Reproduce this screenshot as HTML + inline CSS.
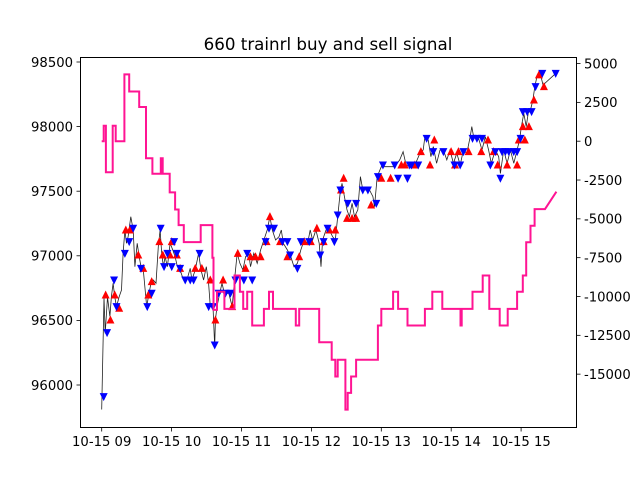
<!DOCTYPE html>
<html><head><meta charset="utf-8"><style>
body{margin:0;background:#fff;}
svg text{font-family:"DejaVu Sans","Liberation Sans",sans-serif;}
</style></head><body>
<svg id="chart" width="640" height="480" viewBox="0 0 640 480" xmlns="http://www.w3.org/2000/svg">
<rect x="0" y="0" width="640" height="480" fill="#fff"/>
<text x="328" y="50" text-anchor="middle" font-size="16.7" fill="#000">660 trainrl buy and sell signal</text>
<g id="plot"></g>
<rect x="80.5" y="57.5" width="496" height="370" fill="none" stroke="#000" stroke-width="1"/>
</svg>
<script>
const priceT=[0,2,3,5,7,8.3,9.8,11.2,12.7,15,17,18.4,19.9,21.3,22.7,25,27,28.5,30.5,32.2,33.7,35.7,38.6,40.6,42.3,44.3,46.6,48.6,50.1,51.5,53,54.4,56.4,58.7,61,63,65,67.3,70.2,73.1,76,77.4,80.3,83.2,85.2,87.5,89.8,91.8,93.2,95.5,97,97.6,99,101.3,103.3,105.3,109.1,112,114,116.3,118.6,121.2,123.5,126.3,127.7,130.6,133.5,136.4,139.2,142.1,144.4,146.4,149.3,152.2,154.2,155.9,159.4,162.3,165.1,168,170.9,173.8,176.7,179,181,183.9,186.7,188.2,189.6,192.5,195.4,198.2,200.5,202.6,204.6,206.3,208.3,210.6,212.6,214.9,217,219.8,222.1,224.1,227,229.9,232.8,234.2,236.5,240,242.9,247.2,251.5,255.8,258.7,261.6,264.4,268.8,273.1,276,277.4,280.3,282.6,284.6,287.5,290.4,293.3,296.2,299,301.9,304.8,307.7,310.5,313.4,316.3,317.7,319.2,323.5,326.4,329.3,332.1,334.4,337.9,340.8,342.2,345.1,348,350.8,353.7,356.6,358.6,360.3,362.3,364.4,366.1,368.1,370.1,371.8,373.9,376.7,378.8,389.7];
const priceV=[95810,96680,96400,96680,96530,96684,96787,96684,96607,96684,96735,97019,97200,97097,97148,97303,97200,96916,97097,96993,96916,96890,96607,96710,96787,96813,96787,97071,97200,97019,96916,96993,96916,97097,97045,96993,96916,96890,96813,96813,96903,96813,96890,97019,96890,96813,96916,96787,96607,96607,96297,96503,96607,96710,96787,96710,96710,96607,96813,97019,96942,96890,96993,97019,96916,97019,96942,97045,97122,97200,97303,97200,97122,97148,97200,97097,97045,96993,96916,96942,97045,97122,97097,97200,97122,97200,97097,96916,97122,97200,97200,97148,97122,97303,97484,97561,97458,97355,97303,97406,97303,97355,97613,97509,97509,97509,97458,97380,97613,97690,97690,97690,97690,97742,97806,97690,97716,97703,97793,97819,97922,97896,97767,97845,97716,97819,97819,97742,97819,97716,97793,97703,97819,97793,97922,98000,97922,97909,97819,97922,97819,97716,97819,97767,97638,97819,97716,97819,97716,97819,97896,98000,98103,98000,98103,98129,98206,98309,98400,98400,98322,98412];
const buyT=[3.4,7.5,11.2,15,20.7,24.2,31.4,35.7,40,42.9,49.5,52.4,58.7,60.1,64.5,67.3,80.3,86,93.2,97.6,104.2,112,116.8,123.5,127.7,132,136.4,141.5,144.4,153.1,159.4,169.5,173.8,179.5,184.7,190.5,195.4,200.5,205.4,207.7,210.6,214.9,218.4,231.3,240,248,257.2,260.2,268.8,274,281.8,285.5,299.9,303.3,306.2,314.9,325.8,331.6,336.4,339.9,348,356.6,358,363.2,361.5,366.7,371,375.3,379.6];
const buyV=[96697,96503,96697,96594,97200,97200,97006,96903,96697,96800,97110,97006,97006,97110,97006,96903,96903,96903,96813,96503,96813,96607,97019,96903,96993,96993,96993,97110,97303,97110,96993,96993,97110,97110,97213,97110,97200,97200,97509,97600,97290,97290,97290,97393,97600,97600,97703,97703,97703,97806,97703,97896,97806,97703,97806,97806,97806,97896,97806,97703,97703,97703,97896,97896,98000,98000,98206,98400,98309];
const sellT=[1.7,4.6,10.6,12.7,19.9,23.6,27,33.7,39.1,42.9,50.6,53.5,56.4,60.1,62.2,64.5,67.3,71.7,76,78.9,84,91.8,95.5,97,100.4,106.2,110.5,114.8,122,124.9,129.2,140.7,143.6,147.9,155.1,159.4,161.7,168,170.9,178.1,187.6,190.5,193.9,199.7,202.6,204.9,211.2,218.4,224.1,228.5,235.7,237.1,241.4,251.5,254.4,262.4,264.4,262.5,265.9,271.7,278.9,284.6,293.3,302.8,307.7,310.5,318.3,322.1,326.4,333.6,337.9,342.2,343.6,346.5,349.4,353.7,356.6,359.5,361.5,365.2,369,372.4,378.2,389.7];
const sellV=[95910,96405,96813,96607,97019,97110,97213,96903,96607,96710,97213,96916,97019,96916,97110,97019,96903,96813,96813,96813,97019,96607,96607,96310,96710,96710,96710,96813,96813,97019,96813,97110,97213,97213,97110,97110,97006,96903,97110,97110,97006,97110,97213,97110,97316,97509,97406,97406,97509,97509,97406,97613,97703,97703,97600,97600,97703,97600,97703,97703,97909,97806,97806,97703,97703,97806,97909,97909,97909,97703,97806,97600,97806,97806,97806,97806,97806,97909,98116,98116,98116,98309,98412,98412];
const profitT=[0,1.7,3.6,9.4,12,19.5,23.6,32.2,38,43.5,50.7,52.4,58.4,63,66,70.5,85,95,96,99,105.3,114,118.6,121.5,124.9,129.2,139.2,143.6,147,166.6,169.5,186.7,197.4,200.5,202.6,209.2,211.2,214.1,218.4,237.1,240,250.1,254.4,262.5,277.4,283.8,292.4,308,309,318.3,327,332.7,341.6,348.5,356.6,361.5,364.4,368.1,371.6,380.5,390.3];
const profitV=[0,1000,-2000,1000,0,4300,3200,2200,-1100,-2100,-1100,-2100,-3300,-4400,-5400,-6500,-5400,-7500,-10860,-9700,-10800,-8650,-9700,-10800,-9700,-11870,-10800,-9700,-10800,-11870,-10800,-12940,-14070,-15150,-14070,-17280,-16210,-15150,-14070,-11870,-10800,-9700,-10800,-11870,-10800,-9700,-10800,-11870,-10800,-9700,-8650,-10800,-11870,-10800,-9700,-8650,-6510,-5440,-4370,-4370,-3250];
const xTicks=[0,60,120,180,240,300,360];
const xTickLabels=["10-15 09","10-15 10","10-15 11","10-15 12","10-15 13","10-15 14","10-15 15"];
const yLeftTicks=[96000,96500,97000,97500,98000,98500];
const yRightTicks=[5000,2500,0,-2500,-5000,-7500,-10000,-12500,-15000];

const NS="http://www.w3.org/2000/svg";
const plot=document.getElementById('plot');
const svg=document.getElementById('chart');
function xs(t){return 101.7+t*69.9/60;}
function yl(p){return 62+(98500-p)*0.1292;}
function yr(v){return 141.2-v*0.01553;}
function mk(tag,attrs,parent){const e=document.createElementNS(NS,tag);for(const k in attrs)e.setAttribute(k,attrs[k]);(parent||plot).appendChild(e);return e;}

xTicks.forEach((t,i)=>{
  const x=xs(t);
  const tk=mk('line',{x1:x,x2:x,y1:428,y2:431.5,stroke:'#000','stroke-width':0.8},svg);
  
  
  const lb=mk('text',{x:x,y:446,'text-anchor':'middle','font-size':13.2,fill:'#000'},svg);
  lb.textContent=xTickLabels[i];
  
  
});
yLeftTicks.forEach(v=>{
  const y=yl(v);
  const tk=mk('line',{x1:76.5,x2:80,y1:y,y2:y,stroke:'#000','stroke-width':0.8},svg);
  
  
  const lb=mk('text',{x:73,y:y+4.8,'text-anchor':'end','font-size':13.2,fill:'#000'},svg);
  lb.textContent=String(v);
  
  
});
yRightTicks.forEach(v=>{
  const y=yr(v);
  const tk=mk('line',{x1:577,x2:580.5,y1:y,y2:y,stroke:'#000','stroke-width':0.8},svg);
  
  
  const lb=mk('text',{x:584,y:y+4.8,'text-anchor':'start','font-size':13.2,fill:'#000'},svg);
  lb.textContent=String(v);
  
  
});

let d='';
priceT.forEach((t,i)=>{d+=(i?'L':'M')+xs(t).toFixed(1)+' '+yl(priceV[i]).toFixed(1);});
const pl=mk('path',{d:d,fill:'none',stroke:'#222','stroke-width':0.8});



buyT.forEach((t,i)=>{
  const x=xs(t),y=yl(buyV[i]);
  const m=mk('polygon',{points:`${x-4},${y+3.5} ${x+4},${y+3.5} ${x},${y-4.5}`,fill:'#ff0000'});
  
  
});
sellT.forEach((t,i)=>{
  const x=xs(t),y=yl(sellV[i]);
  const m=mk('polygon',{points:`${x-4},${y-3.5} ${x+4},${y-3.5} ${x},${y+4.5}`,fill:'#0000ff'});
  
  
});

let p='M'+xs(profitT[0]).toFixed(1)+' '+yr(profitV[0]).toFixed(1);
for(let i=1;i<profitT.length;i++){
  if(i<profitT.length-1) p+='L'+xs(profitT[i]).toFixed(1)+' '+yr(profitV[i-1]).toFixed(1);
  p+='L'+xs(profitT[i]).toFixed(1)+' '+yr(profitV[i]).toFixed(1);
}
const pr=mk('path',{d:p,fill:'none',stroke:'#ff1493','stroke-width':2,'stroke-linejoin':'miter'});


</script>
</body></html>
